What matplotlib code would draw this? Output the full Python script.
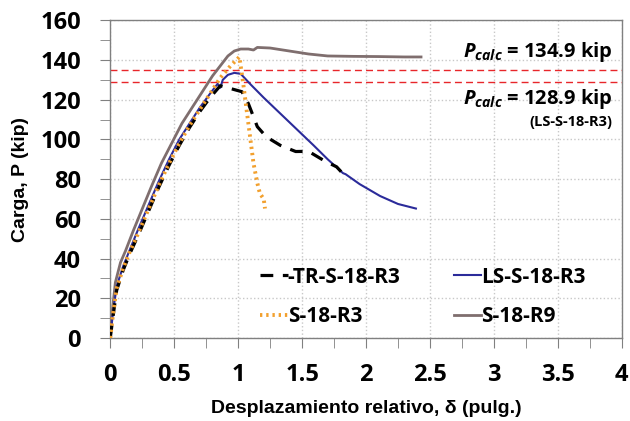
#!/usr/bin/env python3
"""Load-displacement curves for the S-18 specimens."""

import matplotlib
matplotlib.use("Agg")
import matplotlib.pyplot as plt
from matplotlib.ticker import MultipleLocator

plt.rcParams["mathtext.fontset"] = "custom"
plt.rcParams["mathtext.it"] = "Open Sans:italic:bold"
plt.rcParams["mathtext.rm"] = "Open Sans:bold"

# TR-S-18-R3 (black dashed)
tr_x = [0, 0.02, 0.05, 0.10, 0.15, 0.22, 0.30, 0.38, 0.46, 0.54, 0.62, 0.70,
        0.78, 0.86, 0.94, 1.03, 1.08, 1.15, 1.22, 1.33, 1.45, 1.55, 1.68, 1.77, 1.83]
tr_y = [0, 10, 24, 34, 42, 52, 64, 76, 87, 97, 106, 114,
        121, 127, 125.6, 124, 118, 106.4, 101.3, 97, 93.9, 94, 89, 86.2, 82]

# LS-S-18-R3 (blue)
ls_x = [0, 0.02, 0.05, 0.10, 0.15, 0.22, 0.30, 0.38, 0.46, 0.54, 0.62, 0.70,
        0.78, 0.84, 0.86, 0.88, 0.92, 0.97, 1.02, 1.10, 1.20, 1.33, 1.46, 1.59,
        1.70, 1.82, 1.84, 1.95, 2.11, 2.25, 2.39]
ls_y = [0, 12, 26, 36, 44, 55, 67, 79, 90, 100, 108, 116,
        123, 128, 126, 130, 132.5, 133.5, 133, 127.5, 121, 113, 105, 97,
        90, 83, 82.5, 77.5, 71.5, 67.5, 65.2]

# S-18-R3 (orange dotted)
s3_x = [0, 0.02, 0.05, 0.10, 0.15, 0.22, 0.30, 0.38, 0.46, 0.54, 0.62, 0.70,
        0.78, 0.86, 0.94, 1.01, 1.04, 1.07, 1.10, 1.12, 1.15, 1.17, 1.20, 1.21]
s3_y = [0, 11, 25, 35, 43, 53, 65, 77, 88, 98, 107, 115,
        123, 131, 137, 141.5, 128, 113, 98, 88, 78, 72.8, 70, 65.2]

# S-18-R9 (gray)
s9_x = [0, 0.01, 0.04, 0.08, 0.12, 0.18, 0.25, 0.32, 0.40, 0.48, 0.56, 0.64,
        0.72, 0.80, 0.86, 0.92, 0.97, 1.02, 1.08, 1.12, 1.15, 1.25, 1.40, 1.55,
        1.70, 1.90, 2.10, 2.30, 2.43]
s9_y = [0, 10, 28, 38, 44, 54, 65, 76, 88, 98, 108, 116,
        124, 132, 137, 142, 144.5, 145.5, 145.5, 145, 146.3, 146, 144.5, 143,
        142, 141.8, 141.7, 141.5, 141.5]

p_calc = [134.9, 128.9]

GRAY = "#808080"
TEXT_FONT = "Open Sans"
LABEL_FONT = "Liberation Sans"


def main() -> None:
  fig = plt.figure(figsize=(6.3, 4.21), dpi=100)
  ax = fig.add_axes([0.175, 0.197, 0.812, 0.755])

  for p in p_calc:
    ax.axhline(p, color="#E8262A", linestyle=(0, (5, 3)), linewidth=1.0, zorder=2)

  ax.plot(s9_x, s9_y, color="#7F6E6E", linewidth=2.0, label="S-18-R9", zorder=3)
  ax.plot(ls_x, ls_y, color="#2B2B9A", linewidth=1.5, label="LS-S-18-R3", zorder=4)
  ax.plot(tr_x, tr_y, color="black", linewidth=2.3, linestyle=(0, (4, 3)),
          label="-TR-S-18-R3", zorder=5)
  ax.plot(s3_x, s3_y, color="#F2A02E", linewidth=2.8, linestyle=(0, (0.6, 1.0)),
          label="S-18-R3", zorder=6)

  ax.set_xlim(0, 4)
  ax.set_ylim(0, 160)
  ax.xaxis.set_minor_locator(MultipleLocator(0.25))
  ax.yaxis.set_major_locator(MultipleLocator(20))
  ax.yaxis.set_minor_locator(MultipleLocator(10))
  ax.set_xticks([0, 0.5, 1, 1.5, 2, 2.5, 3, 3.5, 4],
                ["0", "0.5", "1", "1.5", "2", "2.5", "3", "3.5", "4"])
  ax.grid(True, which="major", color="#C8C8C8", linestyle=":", linewidth=1.0, zorder=0)
  ax.tick_params(which="both", direction="out", length=7, color=GRAY,
                 top=False, right=False)
  ax.tick_params(axis="x", which="major", pad=11, labelsize=17)
  ax.tick_params(axis="y", which="major", pad=14, labelsize=17)
  for label in ax.get_xticklabels() + ax.get_yticklabels():
    label.set_fontweight("bold")
    label.set_family(TEXT_FONT)
  for spine in ax.spines.values():
    spine.set_color(GRAY)
    spine.set_linewidth(1.0)

  ax.set_xlabel("Desplazamiento relativo, δ (pulg.)", fontsize=14,
                fontweight="bold", family=LABEL_FONT, labelpad=9)
  ax.set_ylabel("Carga, P (kip)", fontsize=14, fontweight="bold",
                family=LABEL_FONT, labelpad=8)

  ax.text(3.93, 144.2, "$P_{calc}$ = 134.9 kip", ha="right", va="center",
          fontsize=14.5, fontweight="bold", family=TEXT_FONT)
  ax.text(3.93, 120.5, "$P_{calc}$ = 128.9 kip", ha="right", va="center",
          fontsize=14.5, fontweight="bold", family=TEXT_FONT)
  ax.text(3.93, 108.9, "(LS-S-18-R3)", ha="right", va="center",
          fontsize=10.5, fontweight="bold", family=TEXT_FONT)

  handles, labels = ax.get_legend_handles_labels()
  order = [2, 3, 1, 0]
  ax.legend([handles[i] for i in order], [labels[i] for i in order],
            ncol=2, frameon=False, loc="upper left",
            bbox_to_anchor=(0.293, 0.225), borderpad=0, borderaxespad=0,
            prop={"family": TEXT_FONT, "weight": "bold", "size": 15},
            handlelength=1.33, handletextpad=0.0, columnspacing=2.55,
            labelspacing=0.88)

  fig.savefig("out.png", dpi=100)
  plt.close(fig)


if __name__ == "__main__":
  main()
